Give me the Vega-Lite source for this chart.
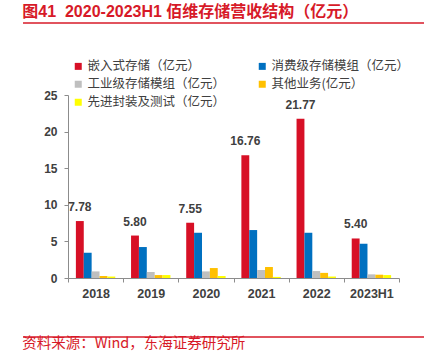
{
  "$schema": "https://vega.github.io/schema/vega-lite/v6.json",
  "padding": {"left": 22, "top": 4, "right": 0, "bottom": 0},
  "background": "white",
  "spacing": 36,
  "resolve": {"legend": {"color": "independent"}},
  "config": {
    "view": {"stroke": null},
    "font": "Liberation Sans, Noto Sans CJK SC"
  },
  "vconcat": [
    {
      "width": 357,
      "height": 1,
      "data": {"values": [{"line": 0}]},
      "mark": {"type": "rule", "color": "#d71a28", "strokeWidth": 1.5},
      "encoding": {
        "x": {"datum": -0.126, "type": "quantitative", "axis": null, "scale": {"domain": [0, 1], "nice": false, "zero": false}},
        "x2": {"datum": 1},
        "y": {"field": "line", "type": "quantitative", "axis": null, "scale": {"domain": [0, 1]}}
      },
      "title": {
        "text": "图41\u00a0\u00a02020-2023H1 佰维存储营收结构（亿元）",
        "anchor": "start",
        "color": "#d71a28",
        "fontSize": 16,
        "fontWeight": "bold",
        "font": "Liberation Sans, Noto Sans CJK SC",
        "offset": 2
      }
    },
    {
      "width": 331,
      "height": 183,
      "data": {
        "values": [
          {"year": "2018", "series": "嵌入式存储（亿元）", "value": 7.78},
          {"year": "2018", "series": "消费级存储模组（亿元）", "value": 3.45},
          {"year": "2018", "series": "工业级存储模组（亿元）", "value": 0.90},
          {"year": "2018", "series": "其他业务(亿元）", "value": 0.27},
          {"year": "2018", "series": "先进封装及测试（亿元）", "value": 0.20},
          {"year": "2019", "series": "嵌入式存储（亿元）", "value": 5.80},
          {"year": "2019", "series": "消费级存储模组（亿元）", "value": 4.23},
          {"year": "2019", "series": "工业级存储模组（亿元）", "value": 0.82},
          {"year": "2019", "series": "其他业务(亿元）", "value": 0.40},
          {"year": "2019", "series": "先进封装及测试（亿元）", "value": 0.40},
          {"year": "2020", "series": "嵌入式存储（亿元）", "value": 7.55},
          {"year": "2020", "series": "消费级存储模组（亿元）", "value": 6.18},
          {"year": "2020", "series": "工业级存储模组（亿元）", "value": 0.90},
          {"year": "2020", "series": "其他业务(亿元）", "value": 1.36},
          {"year": "2020", "series": "先进封装及测试（亿元）", "value": 0.27},
          {"year": "2021", "series": "嵌入式存储（亿元）", "value": 16.76},
          {"year": "2021", "series": "消费级存储模组（亿元）", "value": 6.55},
          {"year": "2021", "series": "工业级存储模组（亿元）", "value": 1.09},
          {"year": "2021", "series": "其他业务(亿元）", "value": 1.50},
          {"year": "2021", "series": "先进封装及测试（亿元）", "value": 0.15},
          {"year": "2022", "series": "嵌入式存储（亿元）", "value": 21.77},
          {"year": "2022", "series": "消费级存储模组（亿元）", "value": 6.18},
          {"year": "2022", "series": "工业级存储模组（亿元）", "value": 0.95},
          {"year": "2022", "series": "其他业务(亿元）", "value": 0.70},
          {"year": "2022", "series": "先进封装及测试（亿元）", "value": 0.20},
          {"year": "2023H1", "series": "嵌入式存储（亿元）", "value": 5.40},
          {"year": "2023H1", "series": "消费级存储模组（亿元）", "value": 4.68},
          {"year": "2023H1", "series": "工业级存储模组（亿元）", "value": 0.50},
          {"year": "2023H1", "series": "其他业务(亿元）", "value": 0.45},
          {"year": "2023H1", "series": "先进封装及测试（亿元）", "value": 0.40}
        ]
      },
      "encoding": {
        "x": {
          "field": "year",
          "type": "nominal",
          "sort": null,
          "title": null,
          "scale": {"paddingInner": 0, "paddingOuter": 0},
          "axis": {
            "labelAngle": 0,
            "tickBand": "extent",
            "domainColor": "#8c8c8c",
            "tickColor": "#8c8c8c",
            "tickSize": 4,
            "labelPadding": 5,
            "labelFontSize": 12.5,
            "labelFontWeight": "bold",
            "labelColor": "#404040",
            "labelFont": "Liberation Sans",
            "minExtent": 20,
            "maxExtent": 20
          }
        },
        "xOffset": {
          "field": "series",
          "sort": ["嵌入式存储（亿元）", "消费级存储模组（亿元）", "工业级存储模组（亿元）", "其他业务(亿元）", "先进封装及测试（亿元）"],
          "scale": {"paddingInner": 0, "paddingOuter": 1.18}
        },
        "y": {
          "field": "value",
          "type": "quantitative",
          "title": null,
          "scale": {"domain": [0, 25], "nice": false},
          "axis": {
            "values": [0, 5, 10, 15, 20, 25],
            "grid": false,
            "domainColor": "#8c8c8c",
            "tickColor": "#8c8c8c",
            "tickSize": 4,
            "labelPadding": 7,
            "labelFontSize": 12,
            "labelFontWeight": "bold",
            "labelColor": "#404040",
            "labelFont": "Liberation Sans",
            "minExtent": 45
          }
        }
      },
      "layer": [
        {
          "mark": {"type": "bar"},
          "encoding": {
            "color": {
              "field": "series",
              "type": "nominal",
              "scale": {
                "domain": ["嵌入式存储（亿元）", "消费级存储模组（亿元）", "工业级存储模组（亿元）", "其他业务(亿元）", "先进封装及测试（亿元）"],
                "range": ["#d71026", "#0070c0", "#bfbfbf", "#ffc000", "#ffff00"]
              },
              "legend": {
                "title": null,
                "orient": "none",
                "direction": "horizontal",
                "legendX": 4,
                "legendY": -35,
                "columns": 2,
                "columnPadding": 30,
                "rowPadding": 5,
                "symbolType": "square",
                "symbolSize": 49,
                "symbolStrokeWidth": 0,
                "labelOffset": 3,
                "labelFontSize": 12.5,
                "labelColor": "#404040",
                "labelFont": "Noto Sans CJK SC",
                "labelLimit": 300
              }
            }
          }
        },
        {
          "transform": [{"filter": "datum.series === '嵌入式存储（亿元）'"}],
          "mark": {"type": "text", "dy": -14, "baseline": "middle", "fontSize": 12, "fontWeight": "bold", "color": "#404040", "font": "Liberation Sans"},
          "encoding": {
            "text": {"field": "value", "type": "quantitative", "format": ".2f"}
          }
        }
      ]
    },
    {
      "width": 357,
      "height": 1,
      "data": {"values": [{"line": 1}]},
      "mark": {"type": "rule", "color": "#d71a28", "strokeWidth": 1.5},
      "encoding": {
        "x": {"datum": -0.126, "type": "quantitative", "axis": null, "scale": {"domain": [0, 1], "nice": false, "zero": false}},
        "x2": {"datum": 1},
        "y": {"field": "line", "type": "quantitative", "axis": null, "scale": {"domain": [0, 1]}}
      },
      "title": {
        "text": "资料来源：Wind，东海证券研究所",
        "orient": "bottom",
        "anchor": "start",
        "color": "#d71a28",
        "fontSize": 14.5,
        "fontWeight": "normal",
        "font": "Noto Sans CJK SC",
        "offset": -1
      }
    }
  ]
}
